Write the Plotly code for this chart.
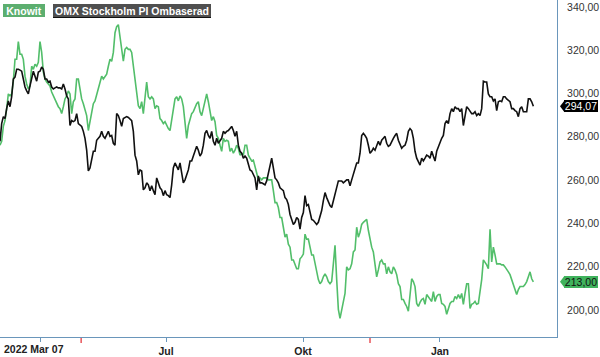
import plotly.graph_objects as go
import pandas as pd

# ---- data ----
start_date = "2022-03-11 12:00"
end_date = "2023-03-04 17:00"

omx = [
    277.9, 286.1, 289.3, 288.4, 293.0, 296.6, 293.9, 298.5, 306.7, 307.6,
    311.2, 311.2, 310.8, 310.3, 306.7, 303.0, 301.2, 299.8, 303.5, 307.6,
    310.3, 308.0, 305.7, 309.9, 310.3, 312.2, 311.2, 306.7, 306.7, 305.3,
    305.7, 303.0, 302.1, 302.6, 303.0, 302.6, 302.6, 302.1, 304.4, 302.1,
    298.9, 297.5, 285.2, 287.5, 287.0, 287.5, 290.7, 286.1, 285.2, 284.8,
    282.5, 279.3, 273.8, 264.2, 265.6, 270.1, 273.3, 273.3, 278.4, 279.3,
    280.2, 282.5, 280.2, 279.3, 280.6, 282.5, 280.2, 280.6, 277.0, 276.1,
    290.7, 289.8, 287.5, 284.8, 288.4, 288.9, 289.3, 288.9, 288.4, 287.5,
    282.5, 271.5, 268.8, 262.4, 264.7, 264.2, 255.5, 256.4, 258.7, 257.8,
    255.1, 257.4, 255.1, 253.2, 261.0, 258.7, 256.4, 255.5, 252.8, 255.1,
    253.2, 252.8, 251.9, 257.8, 265.6, 267.9, 266.5, 264.7, 267.9, 263.3,
    258.7, 260.1, 262.4, 264.7, 268.8, 268.8, 271.1, 273.3, 275.6, 273.8,
    271.1, 272.4, 276.1, 281.6, 282.9, 280.6, 279.3, 282.5, 277.9, 276.1,
    279.3, 277.0, 277.9, 279.3, 282.5, 281.6, 282.5, 282.9, 283.8, 284.8,
    282.9, 280.2, 282.5, 276.1, 273.3, 272.4, 270.1, 271.1, 270.1, 266.9,
    264.7, 264.2, 262.4, 261.0, 255.5, 261.9, 258.7, 258.7, 258.3, 257.8,
    259.6, 263.3, 266.9, 270.1, 265.6, 261.0, 260.1, 258.7, 256.4, 255.5,
    255.1, 251.9, 251.0, 248.7, 244.1, 241.8, 239.5, 240.5, 242.7, 241.8,
    237.3, 242.7, 245.0, 252.8, 248.2, 248.7, 245.0, 241.8, 241.4, 240.5,
    239.5, 240.5, 242.7, 245.9, 250.5, 254.2, 251.9, 249.6, 248.2, 247.3,
    250.5, 254.2, 257.8, 259.6, 259.6, 259.6, 258.7, 259.6, 260.1, 260.1,
    257.4, 260.1, 262.4, 265.6, 267.9, 267.9, 272.4, 280.6, 281.6, 280.6,
    279.3, 276.1, 272.4, 273.3, 274.7, 273.8, 275.6, 277.9, 276.1, 278.4,
    279.3, 280.2, 277.0, 275.6, 276.1, 277.9, 279.3, 280.6, 281.6, 278.4,
    276.1, 274.7, 275.6, 276.1, 278.4, 282.5, 283.8, 282.9, 279.3, 273.3,
    270.1, 268.8, 266.9, 270.1, 268.8, 270.1, 271.5, 271.1, 270.1, 273.3,
    271.1, 268.8, 273.3, 275.6, 277.0, 279.3, 280.6, 286.1, 287.5, 286.1,
    290.7, 293.0, 291.6, 293.9, 293.0, 293.0, 291.6, 293.0, 285.2, 290.7,
    293.9, 293.0, 292.1, 290.7, 290.7, 291.6, 289.8, 290.7, 289.8, 293.0,
    305.7, 305.3, 305.3, 299.8, 298.5, 298.5, 296.6, 297.5, 292.1, 296.2,
    296.6, 296.2, 298.5, 298.5, 297.5, 296.6, 296.2, 293.0, 293.0, 292.1,
    291.6, 289.3, 293.0, 293.9, 291.6, 291.6, 291.6, 297.5, 297.5, 296.2,
    294.07,
]

knowit = [
    276.1, 277.9, 284.8, 287.5, 293.0, 299.8, 298.9, 299.8, 305.7, 315.8,
    315.8, 324.0, 318.1, 318.1, 315.8, 308.0, 304.4, 302.1, 303.5, 312.6,
    311.2, 313.5, 312.6, 314.4, 324.0, 319.0, 309.9, 306.7, 305.3, 304.4,
    303.5, 300.7, 298.9, 297.5, 295.3, 293.9, 293.0, 290.7, 293.9, 297.5,
    298.9, 301.2, 299.8, 290.7, 296.2, 297.5, 306.7, 306.7, 302.1, 297.5,
    295.3, 293.0, 289.8, 282.9, 287.0, 292.1, 295.3, 296.6, 299.8, 303.0,
    305.3, 308.0, 306.7, 308.0, 308.9, 312.6, 315.8, 314.9, 319.0, 328.1,
    330.9, 331.8, 326.3, 320.4, 314.9, 320.4, 321.3, 320.4, 320.4, 319.0,
    312.6, 305.3, 298.9, 294.3, 293.0, 296.2, 290.7, 298.9, 305.3, 298.5,
    297.5, 298.5, 297.5, 293.0, 294.3, 293.9, 288.4, 287.5, 286.1, 287.0,
    285.2, 283.8, 282.9, 288.4, 294.3, 297.5, 298.5, 296.6, 298.9, 297.5,
    293.9, 286.1, 279.3, 285.2, 288.4, 290.7, 291.6, 293.9, 295.3, 296.2,
    291.6, 289.8, 293.0, 296.6, 299.8, 296.2, 291.6, 287.5, 289.3, 287.0,
    280.6, 279.3, 276.1, 273.3, 279.3, 277.9, 278.4, 277.9, 273.3, 274.7,
    272.4, 273.8, 276.1, 274.7, 271.5, 272.4, 271.5, 276.1, 276.1, 271.5,
    270.1, 268.8, 269.2, 265.6, 263.3, 260.1, 261.0, 260.1, 261.0, 261.0,
    261.0, 260.1, 260.1, 260.1, 255.1, 249.6, 249.6, 247.3, 242.7, 242.7,
    238.2, 233.6, 235.0, 230.4, 229.0, 223.1, 223.1, 221.3, 219.0, 219.0,
    223.6, 224.5, 225.8, 235.0, 232.7, 232.7, 229.0, 225.4, 225.4, 221.3,
    216.7, 214.0, 212.1, 213.1, 215.3, 216.7, 215.3, 213.1, 212.1, 213.1,
    221.3, 229.9, 214.0, 200.3, 196.1, 200.3, 204.8, 207.6, 219.9, 218.5,
    219.0, 221.3, 226.8, 227.7, 238.2, 233.6, 235.9, 239.5, 240.5, 241.4,
    241.8, 236.8, 232.2, 229.0, 226.8, 221.3, 215.3, 218.5, 222.2, 223.1,
    221.3, 221.3, 216.7, 219.9, 217.6, 216.7, 219.9, 218.5, 216.3, 212.1,
    210.8, 204.8, 204.8, 203.0, 201.6, 199.4, 207.6, 214.4, 213.1, 210.8,
    203.0, 201.6, 203.5, 204.8, 205.3, 202.6, 207.1, 206.2, 204.8, 203.9,
    208.5, 203.9, 206.2, 207.1, 207.1, 203.0, 202.6, 201.6, 198.0, 200.3,
    203.0, 203.9, 203.9, 206.2, 205.3, 207.1, 205.3, 207.6, 202.6, 207.6,
    212.1, 212.1, 200.7, 202.6, 203.0, 203.9, 202.6, 203.0, 207.6, 214.0,
    223.1, 222.2, 220.8, 219.0, 237.3, 222.2, 229.0, 225.4, 221.3, 221.3,
    221.3, 220.8, 220.8, 219.9, 219.0, 217.6, 216.3, 214.0, 211.7, 208.5,
    207.1, 209.4, 210.8, 210.8, 210.8, 211.7, 213.1, 215.3, 217.6, 214.4,
    213.0,
]

series_names = ["Knowit", "OMX Stockholm PI Ombaserad"]
tick_dates = ["2022-04-07 10:00", "2022-07-01", "2022-10-01", "2023-01-01"]
tick_texts = ["", "Jul", "Okt", "Jan"]
start_label = "2022 Mar 07"
y_ticks = [200, 220, 240, 260, 280, 300, 320, 340]
red_events = ["2022-05-05", "2022-11-15"]

x_range = ["2022-03-11 12:00", "2023-03-20 14:00"]
y_range = [187.49, 343.2]

# ---- style ----
GREEN = "#52be6a"
GREEN_BOX = "#5cae6f"
GREEN_TAG = "#40b35d"
BLACK = "#111111"
AXIS = "#6a96bb"
FONT = "Liberation Sans, Arial, sans-serif"

dates = pd.date_range(start_date, end_date, periods=len(omx))

fig = go.Figure()
fig.add_trace(go.Scatter(x=dates, y=knowit, mode="lines", name=series_names[0],
                         line=dict(color=GREEN, width=1.6)))
fig.add_trace(go.Scatter(x=dates, y=omx, mode="lines", name=series_names[1],
                         line=dict(color=BLACK, width=1.6)))

fig.update_layout(
    width=600, height=357,
    margin=dict(l=0, r=43, t=0, b=16),
    plot_bgcolor="white", paper_bgcolor="white",
    showlegend=False,
    separators=", ",
    font=dict(family=FONT, size=10.5, color="#333333"),
)
fig.update_xaxes(
    type="date", range=x_range,
    showgrid=False, zeroline=False,
    showline=True, linecolor=AXIS, linewidth=1,
    ticks="outside", ticklen=4, tickcolor=AXIS, tickwidth=1,
    tickvals=tick_dates, ticktext=tick_texts,
    tickfont=dict(family=FONT, size=10.5, color="#222222", weight="bold"),
)
fig.update_yaxes(
    side="right", range=y_range,
    showgrid=False, zeroline=False,
    showline=True, linecolor=AXIS, linewidth=1,
    ticks="", tickvals=y_ticks, tickformat=".2f",
    ticklabelstandoff=7,
    tickfont=dict(family=FONT, size=10.5, color="#333333"),
)

ann = []
# start date label
ann.append(dict(xref="paper", yref="paper", x=0, y=0, xanchor="left", yanchor="top",
                xshift=2, yshift=-4, text=start_label, showarrow=False,
                font=dict(family=FONT, size=10.5, color="#222222", weight="bold")))
# legend boxes
ann.append(dict(xref="paper", yref="paper", x=0, y=1, xanchor="left", yanchor="top",
                xshift=3, yshift=-4, text=series_names[0], showarrow=False,
                bgcolor=GREEN_BOX, borderpad=0, borderwidth=0, width=42, height=13,
                font=dict(family=FONT, size=10.5, color="white", weight="bold")))
ann.append(dict(xref="paper", yref="paper", x=0, y=1, xanchor="left", yanchor="top",
                xshift=53, yshift=-4, text=series_names[1], showarrow=False,
                bgcolor="#4f4f4f", borderpad=0, borderwidth=0, width=158, height=13,
                font=dict(family=FONT, size=10.5, color="white", weight="bold")))

# last-value tags
def tag(val, bg, fg):
    return dict(xref="paper", yref="y", x=1, y=val, xanchor="left", yanchor="middle",
                xshift=7, text=f"{val:.2f}".replace(".", ","), showarrow=False,
                bgcolor=bg, borderpad=0, borderwidth=0, width=34, height=12,
                font=dict(family=FONT, size=10.5, color=fg))

ann.append(tag(omx[-1], "#000000", "white"))
ann.append(tag(knowit[-1], GREEN_TAG, "#111111"))
fig.update_layout(annotations=ann)

# legend underline, event ticks and tag arrow tips
plot_w = 557.0
plot_h = 341.0
shapes = [dict(type="line", xref="paper", yref="paper",
               x0=53 / plot_w, x1=211 / plot_w, y0=1 - 17.5 / plot_h, y1=1 - 17.5 / plot_h,
               line=dict(color="#111111", width=1.5))]

x0_t = pd.Timestamp(x_range[0])
x1_t = pd.Timestamp(x_range[1])
for ev in red_events:
    xp = (pd.Timestamp(ev) - x0_t) / (x1_t - x0_t)
    shapes.append(dict(type="line", xref="paper", yref="paper",
                       x0=xp, x1=xp, y0=-1 / plot_h, y1=-6 / plot_h,
                       line=dict(color="#e8545a", width=1.5)))

def tip(val, color):
    yp = (val - y_range[0]) / (y_range[1] - y_range[0])
    h = 6 / plot_h
    return dict(type="path", xref="paper", yref="paper",
                path=f"M {560/plot_w},{yp} L {564.5/plot_w},{yp+h} L {564.5/plot_w},{yp-h} Z",
                fillcolor=color, line=dict(width=0))

shapes.append(tip(omx[-1], "#000000"))
shapes.append(tip(knowit[-1], GREEN_TAG))
fig.update_layout(shapes=shapes)

fig.write_html("out.html", config={"displayModeBar": False},
               post_script="document.body.style.margin='0';")
